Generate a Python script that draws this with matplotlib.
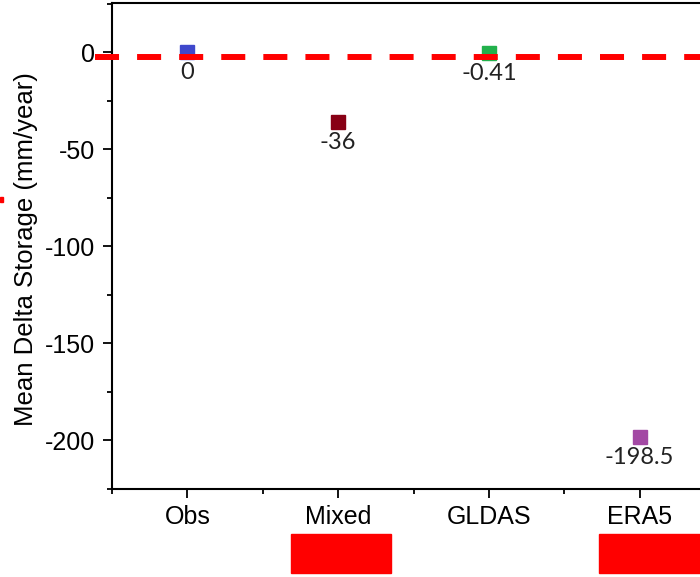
import matplotlib
matplotlib.use("Agg")
import matplotlib.pyplot as plt
from matplotlib.patches import Rectangle
from matplotlib.ticker import MultipleLocator, FixedLocator

plt.rcParams['font.family'] = ['Liberation Sans', 'DejaVu Sans']
plt.rcParams['lines.scale_dashes'] = False
plt.rcParams['axes.unicode_minus'] = False

# data
categories = ["Obs", "Mixed", "GLDAS", "ERA5"]
values = [0, -36, -0.41, -198.5]
labels = ["0", "-36", "-0.41", "-198.5"]
colors = ["#3F48CC", "#880015", "#22B14C", "#A349A4"]
ref_value = -2.6   # red dashed reference line

fig = plt.figure(figsize=(7, 5.77), dpi=100)
ax = fig.add_axes([112/700, 88.5/577, 603/700, 485.5/577])

x = list(range(1, len(categories) + 1))

# reference line runs a little past the left spine
ax.plot([0.387, 4.6], [ref_value, ref_value], color="#FF0000", lw=4.3,
        dashes=(17.3, 13.0), solid_capstyle="butt", dash_capstyle="butt",
        clip_on=False, zorder=3)

for xi, v, lab, c in zip(x, values, labels, colors):
    ax.plot(xi, v, marker="s", ms=9.5, color=c, mec=c, ls="none", zorder=2)
    ax.annotate(lab, (xi, v), xytext=(0, -15), textcoords="offset points",
                ha="center", va="center", fontsize=17, family="Lato",
                color="#222222")

ax.set_xlim(0.5, 4.5)
ax.set_ylim(-225, 25.3)
ax.set_xticks(x)
ax.set_xticklabels(categories)
ax.xaxis.set_minor_locator(FixedLocator([0.5, 1.5, 2.5, 3.5, 4.5]))
ax.yaxis.set_major_locator(MultipleLocator(50))
ax.yaxis.set_minor_locator(MultipleLocator(25))

ax.tick_params(axis="both", which="major", direction="out", length=6.5, width=1.3,
               labelsize=18, pad=5.5)
ax.tick_params(axis="both", which="minor", direction="out", length=3.5, width=1.3)
ax.tick_params(top=False, right=False, which="both")

for s in ax.spines.values():
    s.set_linewidth(1.5)

ax.set_ylabel("Mean Delta Storage (mm/year)", fontsize=18.5)
ax.yaxis.set_label_coords(-(112 - 38) / 603, (577 - 249 - 88.5) / 485.5)

# red blocks outside the plot
fig.patches.append(Rectangle((291/700, 4/577), 100/700, 39/577, color="#FF0000",
                             transform=fig.transFigure, figure=fig))
fig.patches.append(Rectangle((599/700, 4/577), 101/700, 39/577, color="#FF0000",
                             transform=fig.transFigure, figure=fig))
fig.patches.append(Rectangle((0, 375/577), 3/700, 5/577, color="#FF0000",
                             transform=fig.transFigure, figure=fig))

fig.savefig("out.png", dpi=100)
